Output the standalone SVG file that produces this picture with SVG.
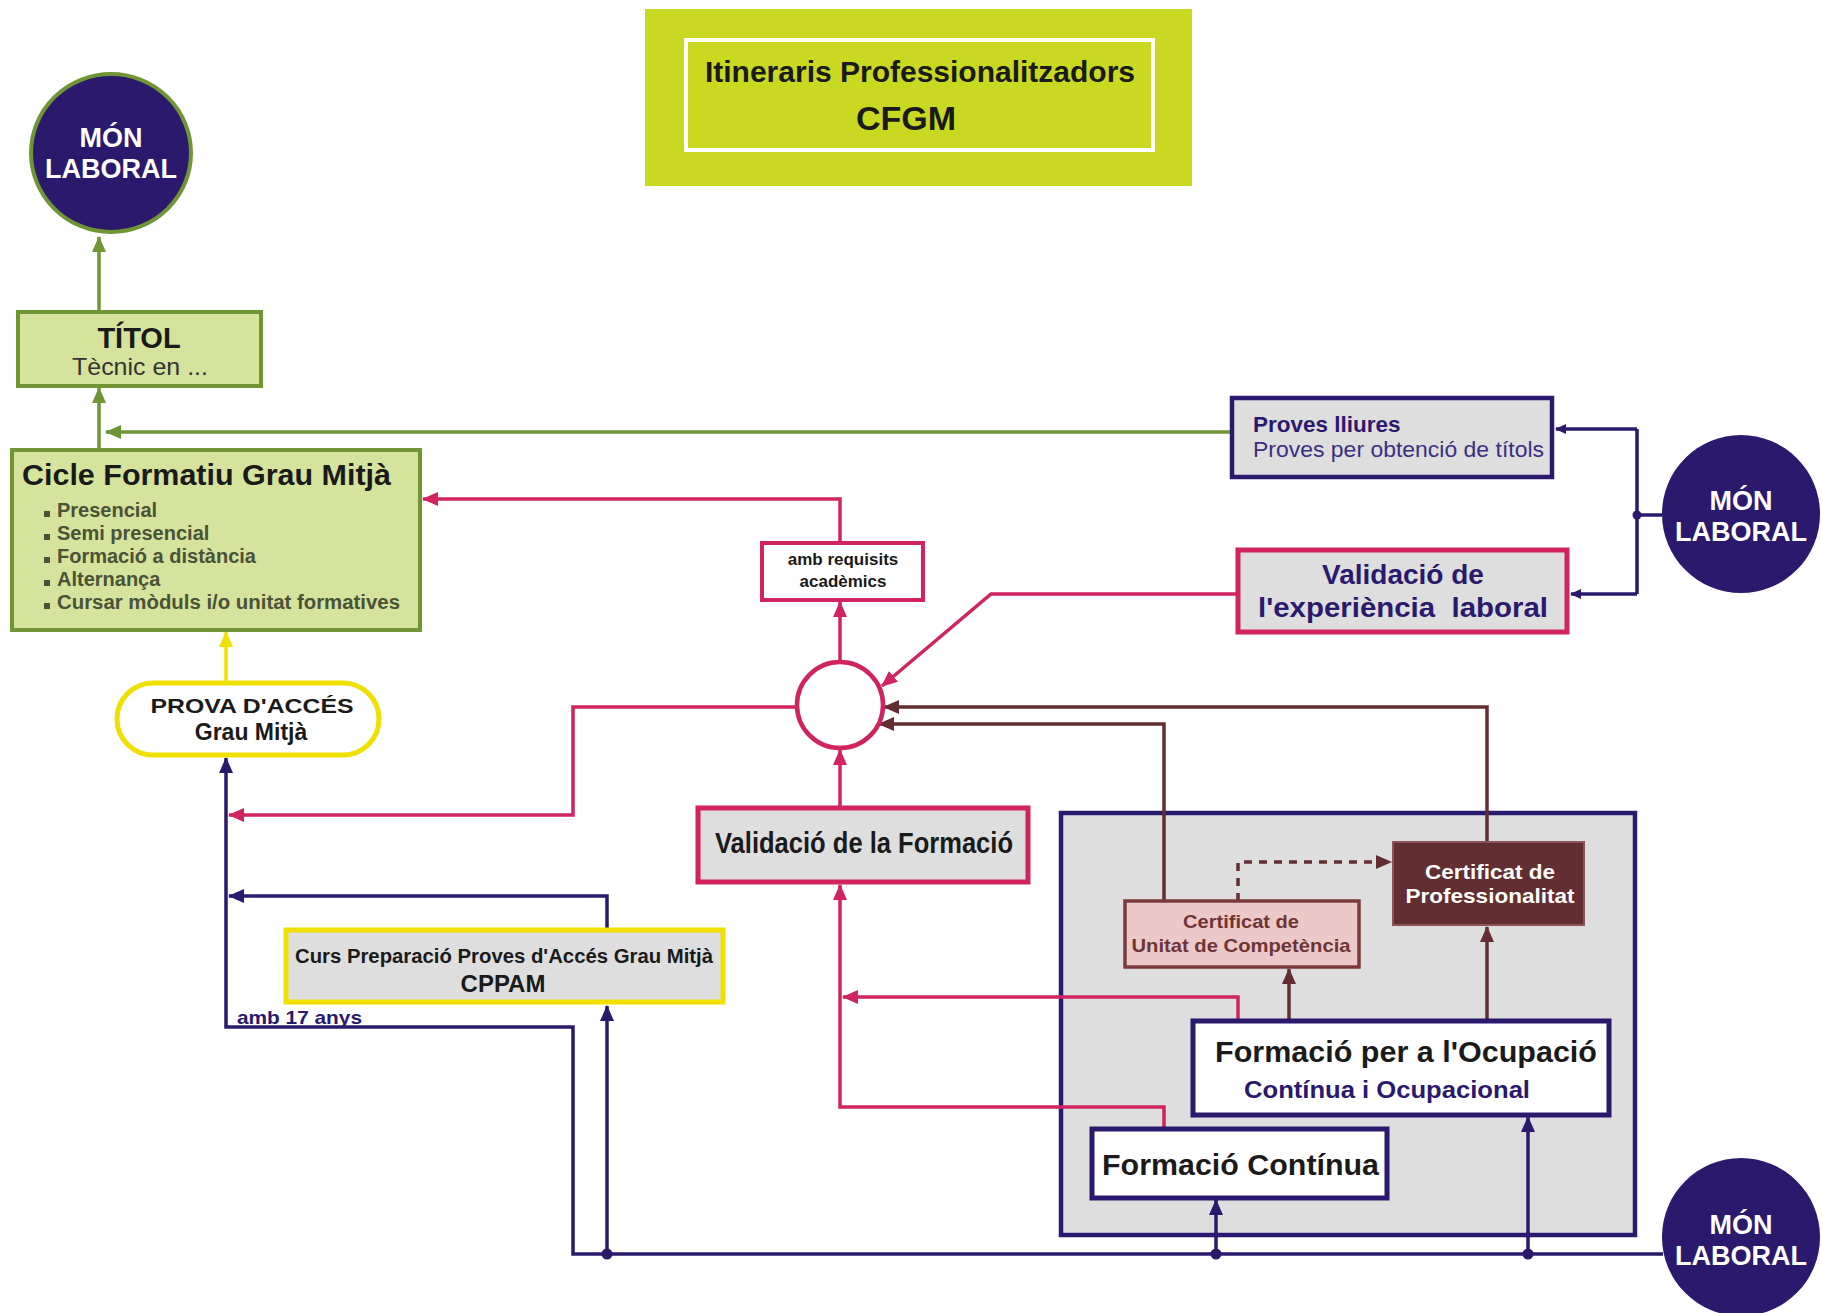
<svg xmlns="http://www.w3.org/2000/svg" width="1822" height="1313" viewBox="0 0 1822 1313">
<defs>
<style>
text{font-family:"Liberation Sans",Arial,sans-serif;font-weight:bold}
.c{stroke-width:3.5;fill:none}
.g{stroke:#6f9535}.p{stroke:#d0235f}.b{stroke:#632e31}.n{stroke:#2a196d}.y{stroke:#f0e000}
.mon{fill:#2a196d}
.mt{fill:#fff;font-size:27px;text-anchor:middle}
.box{stroke-width:4}
</style>
<marker id="ag" markerUnits="userSpaceOnUse" markerWidth="16" markerHeight="14" refX="15" refY="7" orient="auto"><path d="M0,0 L16,7 L0,14 z" fill="#6f9535"/></marker>
<marker id="ap" markerUnits="userSpaceOnUse" markerWidth="16" markerHeight="14" refX="15" refY="7" orient="auto"><path d="M0,0 L16,7 L0,14 z" fill="#d0235f"/></marker>
<marker id="ab" markerUnits="userSpaceOnUse" markerWidth="16" markerHeight="14" refX="15" refY="7" orient="auto"><path d="M0,0 L16,7 L0,14 z" fill="#632e31"/></marker>
<marker id="an" markerUnits="userSpaceOnUse" markerWidth="16" markerHeight="14" refX="15" refY="7" orient="auto"><path d="M0,0 L16,7 L0,14 z" fill="#2a196d"/></marker>
<marker id="ans" markerUnits="userSpaceOnUse" markerWidth="11" markerHeight="10" refX="10" refY="5" orient="auto"><path d="M0,0 L11,5 L0,10 z" fill="#2a196d"/></marker>
<marker id="ay" markerUnits="userSpaceOnUse" markerWidth="16" markerHeight="14" refX="15" refY="7" orient="auto"><path d="M0,0 L16,7 L0,14 z" fill="#f0e000"/></marker>
</defs>
<rect width="1822" height="1313" fill="#fff"/>

<g id="title">
<rect x="645" y="9" width="547" height="177" fill="#c9d821"/>
<rect x="686" y="40" width="467" height="110" fill="none" stroke="#fff" stroke-width="4"/>
<text x="920" y="82" font-size="30" text-anchor="middle" fill="#1a1a1a">Itineraris Professionalitzadors</text>
<text x="906" y="130" font-size="34" text-anchor="middle" fill="#1a1a1a">CFGM</text>
</g>

<g id="container">
<rect x="1061" y="813" width="574" height="422" fill="#dedede" stroke="#2a196d" stroke-width="4.5"/>
</g>

<g id="connectors">
<!-- green -->
<path class="c g" d="M99,311 V237" marker-end="url(#ag)"/>
<path class="c g" d="M99,450 V388" marker-end="url(#ag)"/>
<path class="c g" d="M1232,432 H106" marker-end="url(#ag)"/>
<!-- pink -->
<path class="c p" d="M840,543 V499 H423" marker-end="url(#ap)"/>
<path class="c p" d="M840,662 V602" marker-end="url(#ap)"/>
<path class="c p" d="M840,808 V750" marker-end="url(#ap)"/>
<path class="c p" d="M797,707 H573 V815 H229" marker-end="url(#ap)"/>
<path class="c p" d="M1238,594 H991 L882,686" marker-end="url(#ap)"/>
<path class="c p" d="M1164,1129 V1107 H840 V885" marker-end="url(#ap)"/>
<path class="c p" d="M1238,1021 V997 H843" marker-end="url(#ap)"/>
<!-- brown -->
<path class="c b" d="M1487,842 V707 H884" marker-end="url(#ab)"/>
<path class="c b" d="M1164,901 V724 H879" marker-end="url(#ab)"/>
<path class="c b" d="M1238,901 V862 H1391" stroke-dasharray="8 7" marker-end="url(#ab)"/>
<path class="c b" d="M1289,1021 V969" marker-end="url(#ab)"/>
<path class="c b" d="M1487,1021 V927" marker-end="url(#ab)"/>
<!-- navy -->
<path class="c n" d="M1662,515 H1637"/>
<path class="c n" d="M1637,429 V594"/>
<path class="c n" d="M1637,429 H1556" marker-end="url(#ans)"/>
<path class="c n" d="M1637,594 H1571" marker-end="url(#ans)"/>
<circle cx="1637" cy="515" r="4.5" fill="#2a196d"/>
<path class="c n" d="M1663,1254 H573 V1027 H226 V758" marker-end="url(#an)"/>
<path class="c n" d="M607,1254 V1006" marker-end="url(#an)"/>
<path class="c n" d="M1216,1254 V1200" marker-end="url(#an)"/>
<path class="c n" d="M1528,1254 V1117" marker-end="url(#an)"/>
<path class="c n" d="M607,928 V896 H229" marker-end="url(#an)"/>
<circle cx="607" cy="1254" r="5.5" fill="#2a196d"/>
<circle cx="1216" cy="1254" r="5.5" fill="#2a196d"/>
<circle cx="1528" cy="1254" r="5.5" fill="#2a196d"/>
<text x="237" y="1024" font-size="19" fill="#2a196d" textLength="125" lengthAdjust="spacingAndGlyphs">amb 17 anys</text>
<!-- yellow -->
<path class="c y" d="M226,683 V632" marker-end="url(#ay)"/>
</g>

<g id="mon-top">
<ellipse cx="111" cy="153" rx="80" ry="79" class="mon" stroke="#6f9535" stroke-width="4"/>
<text class="mt" x="111" y="147">MÓN</text>
<text class="mt" x="111" y="178">LABORAL</text>
</g>

<g id="titol">
<rect x="18" y="312" width="243" height="74" fill="#d6e39d" stroke="#6f9535" class="box"/>
<text x="139" y="348" font-size="29" text-anchor="middle" fill="#1a1a1a">TÍTOL</text>
<text x="140" y="375" font-size="24" text-anchor="middle" fill="#333" style="font-weight:normal" textLength="136" lengthAdjust="spacingAndGlyphs">Tècnic en ...</text>
</g>

<g id="cicle">
<rect x="12" y="450" width="408" height="180" fill="#d6e39d" stroke="#6f9535" class="box"/>
<text x="22" y="485" font-size="29" fill="#1a1a1a" textLength="369" lengthAdjust="spacingAndGlyphs">Cicle Formatiu Grau Mitjà</text>
<g fill="#4a5238" font-size="20">
<rect x="44" y="511" width="6" height="6"/><text x="57" y="517">Presencial</text>
<rect x="44" y="534" width="6" height="6"/><text x="57" y="540">Semi presencial</text>
<rect x="44" y="557" width="6" height="6"/><text x="57" y="563">Formació a distància</text>
<rect x="44" y="580" width="6" height="6"/><text x="57" y="586">Alternança</text>
<rect x="44" y="603" width="6" height="6"/><text x="57" y="609" textLength="343" lengthAdjust="spacingAndGlyphs">Cursar mòduls i/o unitat formatives</text>
</g>
</g>

<g id="prova">
<rect x="117" y="683" width="262" height="72" rx="36" fill="#fff" stroke="#f0e000" stroke-width="5"/>
<text x="252" y="713" font-size="21" text-anchor="middle" fill="#1a1a1a" textLength="203" lengthAdjust="spacingAndGlyphs">PROVA D'ACCÉS</text>
<text x="251" y="740" font-size="23" text-anchor="middle" fill="#1a1a1a">Grau Mitjà</text>
</g>

<g id="requisits">
<rect x="762" y="543" width="161" height="57" fill="#fff" stroke="#d0235f" class="box"/>
<text x="843" y="565" font-size="17" text-anchor="middle" fill="#1a1a1a">amb requisits</text>
<text x="843" y="587" font-size="17" text-anchor="middle" fill="#1a1a1a">acadèmics</text>
</g>

<g id="junction">
<ellipse cx="840" cy="705" rx="43" ry="43" fill="#fff" stroke="#d0235f" stroke-width="4.5"/>
</g>

<g id="validacio-formacio">
<rect x="698" y="808" width="330" height="74" fill="#dedede" stroke="#d0235f" stroke-width="5"/>
<text x="715" y="853" font-size="29" fill="#1a1a1a" textLength="298" lengthAdjust="spacingAndGlyphs">Validació de la Formació</text>
</g>

<g id="proves-lliures">
<rect x="1232" y="398" width="320" height="79" fill="#dedede" stroke="#2a196d" stroke-width="4.5"/>
<text x="1253" y="432" font-size="22.5" fill="#2a196d">Proves lliures</text>
<text x="1253" y="457" font-size="22.5" fill="#3b2e82" style="font-weight:normal" textLength="291" lengthAdjust="spacingAndGlyphs">Proves per obtenció de títols</text>
</g>

<g id="validacio-experiencia">
<rect x="1238" y="550" width="329" height="82" fill="#dedede" stroke="#d0235f" stroke-width="5"/>
<text x="1403" y="584" font-size="28" text-anchor="middle" fill="#2a196d">Validació de</text>
<text x="1403" y="617" font-size="28" text-anchor="middle" fill="#2a196d" style="white-space:pre" textLength="290" lengthAdjust="spacingAndGlyphs">l'experiència  laboral</text>
</g>

<g id="mon-right">
<circle cx="1741" cy="514" r="79" class="mon"/>
<text class="mt" x="1741" y="510">MÓN</text>
<text class="mt" x="1741" y="541">LABORAL</text>
</g>

<g id="cert-prof">
<rect x="1393" y="842" width="191" height="83" fill="#632e31" stroke="#8a5558" stroke-width="2"/>
<text x="1490" y="879" font-size="21" text-anchor="middle" fill="#fff" textLength="130" lengthAdjust="spacingAndGlyphs">Certificat de</text>
<text x="1490" y="903" font-size="21" text-anchor="middle" fill="#fff" textLength="169" lengthAdjust="spacingAndGlyphs">Professionalitat</text>
</g>

<g id="cert-unitat">
<rect x="1125" y="901" width="234" height="66" fill="#ecc9c9" stroke="#7b3b3d" stroke-width="3.5"/>
<text x="1241" y="928" font-size="19" text-anchor="middle" fill="#6e3535" textLength="116" lengthAdjust="spacingAndGlyphs">Certificat de</text>
<text x="1241" y="952" font-size="19" text-anchor="middle" fill="#6e3535" textLength="219" lengthAdjust="spacingAndGlyphs">Unitat de Competència</text>
</g>

<g id="formacio-ocupacio">
<rect x="1193" y="1021" width="416" height="94" fill="#fff" stroke="#2a196d" stroke-width="5"/>
<text x="1215" y="1062" font-size="29" fill="#1a1a1a" textLength="382" lengthAdjust="spacingAndGlyphs">Formació per a l'Ocupació</text>
<text x="1244" y="1098" font-size="24" fill="#2a196d" textLength="286" lengthAdjust="spacingAndGlyphs">Contínua i Ocupacional</text>
</g>

<g id="formacio-continua">
<rect x="1092" y="1129" width="295" height="69" fill="#fff" stroke="#2a196d" stroke-width="5"/>
<text x="1102" y="1175" font-size="29" fill="#1a1a1a" textLength="277" lengthAdjust="spacingAndGlyphs">Formació Contínua</text>
</g>

<g id="cppam">
<rect x="286" y="930" width="437" height="72" fill="#dedede" stroke="#f0e000" stroke-width="5"/>
<text x="295" y="963" font-size="20" fill="#1a1a1a" textLength="418" lengthAdjust="spacingAndGlyphs">Curs Preparació Proves d'Accés Grau Mitjà</text>
<text x="503" y="992" font-size="24" text-anchor="middle" fill="#1a1a1a">CPPAM</text>
</g>

<g id="mon-bottom">
<circle cx="1741" cy="1237" r="79" class="mon"/>
<text class="mt" x="1741" y="1234">MÓN</text>
<text class="mt" x="1741" y="1265">LABORAL</text>
</g>
</svg>
